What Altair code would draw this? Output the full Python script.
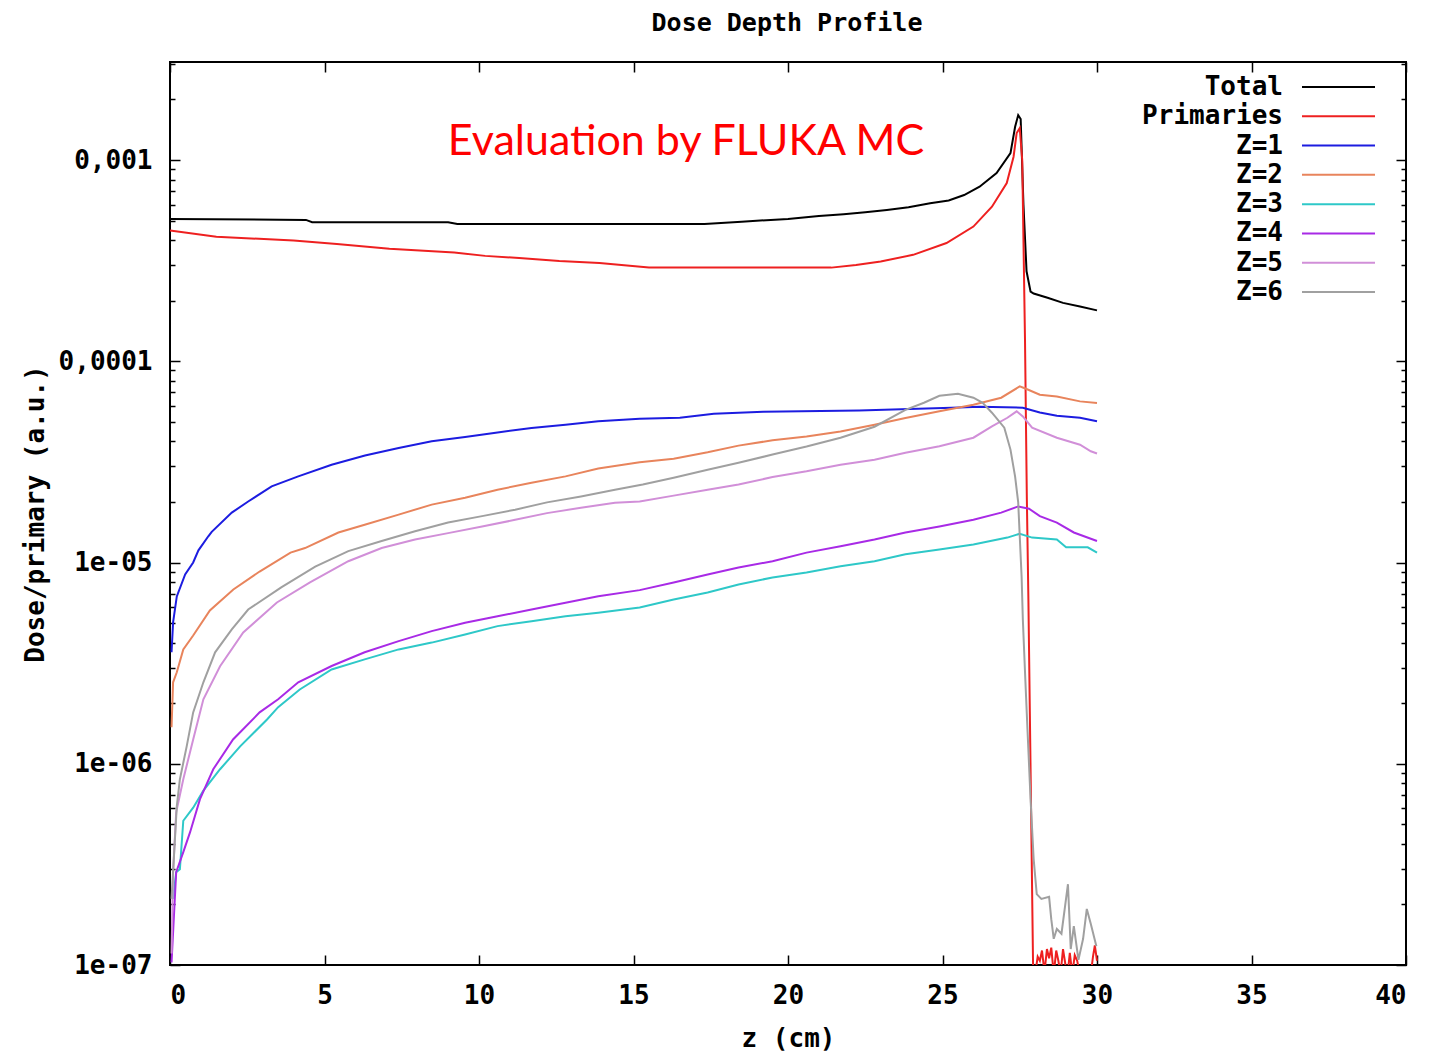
import altair as alt
import pandas as pd

# ---------------- data ----------------
series_names = ["Total", "Primaries", "Z=1", "Z=2", "Z=3", "Z=4", "Z=5", "Z=6"]
series_colors = ["#000000", "#ee2020", "#1c1ce0", "#e8845c", "#2ec8c8",
                 "#a82ae6", "#d18fd8", "#a0a0a0"]

tot_z = [0, 4.4, 4.6, 9.0, 9.3, 17.3, 18.5, 20.0, 21.0, 21.8, 22.5, 23.2, 23.9, 24.6, 25.2,
         25.7, 26.2, 26.75, 27.2, 27.35, 27.45, 27.53, 27.62, 27.72, 27.85, 27.95, 28.4, 28.9,
         29.45, 30.0]
tot_d = [5.10e-4, 5.04e-4, 4.91e-4, 4.91e-4, 4.81e-4, 4.81e-4, 4.94e-4, 5.10e-4, 5.27e-4,
         5.38e-4, 5.50e-4, 5.65e-4, 5.82e-4, 6.10e-4, 6.30e-4, 6.70e-4, 7.37e-4, 8.62e-4,
         1.083e-3, 1.463e-3, 1.672e-3, 1.60e-3, 6.0e-4, 2.8e-4, 2.22e-4, 2.17e-4, 2.07e-4,
         1.95e-4, 1.87e-4, 1.79e-4]

pri_z = [0, 1.5, 4.0, 5.4, 7.1, 9.2, 10.2, 11.3, 12.6, 13.9, 15.5, 21.4, 22.2, 23.0, 24.05,
         25.13, 26.0, 26.6, 27.08, 27.3, 27.4, 27.5, 27.58, 27.67, 27.73, 27.78, 27.93, 27.98,
         28.0, 28.08, 28.15, 28.22, 28.3, 28.38, 28.45, 28.52, 28.6, 28.68, 28.75, 28.82, 28.9,
         28.98, 29.05, 29.12, 29.2, 29.28, 29.36, 29.44, 29.8, 29.87, 29.93, 30.0]
pri_d = [4.46e-4, 4.16e-4, 3.98e-4, 3.83e-4, 3.62e-4, 3.47e-4, 3.34e-4, 3.26e-4, 3.15e-4,
         3.08e-4, 2.92e-4, 2.92e-4, 3.01e-4, 3.13e-4, 3.38e-4, 3.87e-4, 4.67e-4, 5.86e-4,
         7.69e-4, 1.039e-3, 1.361e-3, 1.441e-3, 1.0e-3, 1.28e-4, 2.06e-5, 6.55e-6, 1.03e-7,
         5e-8, 9e-8, 1.1e-7, 1.05e-7, 1.18e-7, 9.2e-8, 1.2e-7, 1.08e-7, 1.22e-7, 9e-8,
         1.18e-7, 1.05e-7, 9e-8, 1.2e-7, 1.0e-7, 9e-8, 1.15e-7, 9e-8, 1.12e-7, 1.05e-7, 9e-8,
         9e-8, 1.1e-7, 1.25e-7, 1.05e-7]

z1_z = [0.05, 0.1, 0.22, 0.49, 0.75, 0.92, 1.24, 1.35, 2.0, 2.53, 3.29, 4.15, 5.23, 6.31,
        7.4, 8.47, 9.55, 10.6, 11.7, 12.8, 13.86, 15.2, 16.5, 17.6, 19.2, 22.3, 25.3, 26.2,
        27.6, 28.15, 28.7, 29.45, 30.0]
z1_d = [3.58e-6, 5.04e-6, 6.78e-6, 8.72e-6, 1.0e-5, 1.15e-5, 1.35e-5, 1.42e-5, 1.77e-5,
        2.01e-5, 2.39e-5, 2.68e-5, 3.06e-5, 3.40e-5, 3.71e-5, 4.00e-5, 4.20e-5, 4.43e-5,
        4.66e-5, 4.84e-5, 5.03e-5, 5.18e-5, 5.24e-5, 5.49e-5, 5.62e-5, 5.70e-5, 5.88e-5,
        5.95e-5, 5.88e-5, 5.57e-5, 5.36e-5, 5.24e-5, 5.03e-5]

z2_z = [0.05, 0.1, 0.22, 0.43, 0.75, 1.29, 2.05, 2.9, 3.9, 4.37, 5.45, 6.3, 7.4, 8.47, 9.55,
        10.6, 11.7, 12.8, 13.86, 15.2, 16.3, 17.4, 18.4, 19.5, 20.6, 21.7, 22.8, 23.8, 24.9,
        26.0, 26.9, 27.5, 27.7, 28.15, 28.7, 29.45, 30.0]
z2_d = [1.52e-6, 2.54e-6, 2.85e-6, 3.70e-6, 4.34e-6, 5.78e-6, 7.35e-6, 9.02e-6, 1.12e-5,
        1.18e-5, 1.41e-5, 1.54e-5, 1.73e-5, 1.94e-5, 2.10e-5, 2.30e-5, 2.49e-5, 2.68e-5,
        2.93e-5, 3.15e-5, 3.28e-5, 3.53e-5, 3.81e-5, 4.05e-5, 4.23e-5, 4.48e-5, 4.84e-5,
        5.23e-5, 5.64e-5, 6.08e-5, 6.59e-5, 7.50e-5, 7.30e-5, 6.82e-5, 6.69e-5, 6.32e-5,
        6.20e-5]

z3_z = [0.1, 0.2, 0.32, 0.43, 0.75, 1.08, 1.62, 2.27, 3.14, 3.5, 4.2, 5.23, 6.3, 7.4, 8.47,
        9.55, 10.6, 11.7, 12.8, 13.86, 15.2, 16.3, 17.4, 18.4, 19.5, 20.6, 21.7, 22.8, 23.8,
        24.9, 26.0, 27.1, 27.5, 27.9, 28.7, 29.0, 29.7, 30.0]
z3_d = [2.13e-7, 2.89e-7, 2.99e-7, 5.21e-7, 6.05e-7, 7.35e-7, 9.39e-7, 1.22e-6, 1.66e-6,
        1.91e-6, 2.34e-6, 2.94e-6, 3.30e-6, 3.70e-6, 4.00e-6, 4.39e-6, 4.83e-6, 5.11e-6,
        5.41e-6, 5.63e-6, 5.98e-6, 6.55e-6, 7.10e-6, 7.78e-6, 8.43e-6, 8.92e-6, 9.59e-6,
        1.015e-5, 1.10e-5, 1.16e-5, 1.23e-5, 1.33e-5, 1.39e-5, 1.33e-5, 1.30e-5, 1.19e-5,
        1.19e-5, 1.12e-5]

z4_z = [0.05, 0.2, 0.43, 0.65, 0.97, 1.4, 2.04, 2.9, 3.5, 4.15, 5.23, 6.3, 7.4, 8.47, 9.55,
        10.6, 11.7, 12.8, 13.86, 15.2, 16.3, 17.4, 18.4, 19.5, 20.6, 21.7, 22.8, 23.8, 24.9,
        26.0, 26.9, 27.45, 27.8, 28.15, 28.7, 29.25, 30.0]
z4_d = [1.03e-7, 2.89e-7, 3.64e-7, 4.57e-7, 6.67e-7, 9.39e-7, 1.32e-6, 1.80e-6, 2.09e-6,
        2.54e-6, 3.06e-6, 3.58e-6, 4.07e-6, 4.56e-6, 5.02e-6, 5.41e-6, 5.84e-6, 6.31e-6,
        6.80e-6, 7.29e-6, 7.96e-6, 8.72e-6, 9.45e-6, 1.015e-5, 1.12e-5, 1.205e-5, 1.30e-5,
        1.41e-5, 1.51e-5, 1.63e-5, 1.77e-5, 1.90e-5, 1.85e-5, 1.70e-5, 1.58e-5, 1.41e-5,
        1.28e-5]

z5_z = [0.05, 0.1, 0.2, 0.43, 0.75, 1.08, 1.62, 2.37, 3.46, 4.53, 5.77, 6.85, 7.93, 9.0,
        10.1, 11.17, 12.2, 13.3, 14.4, 15.2, 16.3, 17.4, 18.4, 19.5, 20.6, 21.7, 22.8, 23.8,
        24.9, 26.0, 26.6, 27.1, 27.4, 27.6, 27.9, 28.7, 29.45, 29.8, 30.0]
z5_d = [1.14e-7, 2.89e-7, 5.74e-7, 8.38e-7, 1.32e-6, 2.09e-6, 3.05e-6, 4.49e-6, 6.33e-6,
        7.96e-6, 1.015e-5, 1.18e-5, 1.30e-5, 1.40e-5, 1.51e-5, 1.63e-5, 1.76e-5, 1.87e-5,
        1.98e-5, 2.01e-5, 2.15e-5, 2.30e-5, 2.44e-5, 2.66e-5, 2.84e-5, 3.06e-5, 3.24e-5,
        3.51e-5, 3.78e-5, 4.17e-5, 4.75e-5, 5.24e-5, 5.64e-5, 5.32e-5, 4.68e-5, 4.17e-5,
        3.85e-5, 3.57e-5, 3.48e-5]

z6_z = [0.05, 0.22, 0.32, 0.54, 0.75, 1.08, 1.46, 2.0, 2.53, 3.6, 4.7, 5.77, 6.85, 7.93, 9.0,
        10.1, 11.17, 12.2, 13.3, 14.4, 15.3, 16.3, 17.4, 18.4, 19.5, 20.6, 21.7, 22.8, 23.8,
        24.4, 24.9, 25.5, 26.0, 26.3, 26.6, 27.0, 27.2, 27.35, 27.45, 27.5, 27.56, 27.6,
        27.68, 27.75, 27.85, 27.95, 28.05, 28.2, 28.45, 28.52, 28.6, 28.7, 28.85, 29.06,
        29.15, 29.25, 29.4, 29.55, 29.67, 29.8, 29.98]
z6_d = [2.13e-7, 6.15e-7, 8.38e-7, 1.22e-6, 1.80e-6, 2.54e-6, 3.58e-6, 4.65e-6, 5.84e-6,
        7.52e-6, 9.55e-6, 1.14e-5, 1.28e-5, 1.43e-5, 1.58e-5, 1.70e-5, 1.83e-5, 1.99e-5,
        2.13e-5, 2.30e-5, 2.44e-5, 2.64e-5, 2.89e-5, 3.13e-5, 3.44e-5, 3.77e-5, 4.17e-5,
        4.73e-5, 5.74e-5, 6.22e-5, 6.74e-5, 6.90e-5, 6.59e-5, 6.22e-5, 5.55e-5, 4.68e-5,
        3.64e-5, 2.67e-5, 1.99e-5, 1.35e-5, 8.52e-6, 5.21e-6, 2.63e-6, 1.48e-6, 6.67e-7,
        3.36e-7, 2.25e-7, 2.13e-7, 2.18e-7, 1.69e-7, 1.35e-7, 1.51e-7, 1.43e-7, 2.52e-7,
        1.20e-7, 1.56e-7, 1.06e-7, 1.35e-7, 1.90e-7, 1.60e-7, 1.24e-7]

x_ticks = [0, 5, 10, 15, 20, 25, 30, 35, 40]
y_major = [1e-7, 1e-6, 1e-5, 1e-4, 1e-3]
y_labels = ["1e-07", "1e-06", "1e-05", "0,0001", "0,001"]
y_minor = [m * 10.0 ** e for e in range(-7, -3 + 1) for m in range(2, 10)]
y_minor = [v for v in y_minor if v < 3.07e-3]

title_text = ["Dose Depth Profile"]
note_text = ["Evaluation by FLUKA MC"]
note_z = [16.7]
note_d = [1.06e-3]

# ---------------- build tables ----------------
all_z = [tot_z, pri_z, z1_z, z2_z, z3_z, z4_z, z5_z, z6_z]
all_d = [tot_d, pri_d, z1_d, z2_d, z3_d, z4_d, z5_d, z6_d]
rows = []
for k, (name, zs, ds) in enumerate(zip(series_names, all_z, all_d)):
    for i, (z, d) in enumerate(zip(zs, ds)):
        rows.append({"series": name, "z": z, "dose": d, "order": i, "k": k})
df = pd.DataFrame(rows)
legend_df = pd.DataFrame({"series": series_names})
note_df = pd.DataFrame({"z": note_z, "dose": note_d, "text": note_text})
title_df = pd.DataFrame({"text": title_text})

W, H = 1236, 903
FONT = "DejaVu Sans Mono"
FS = 26

x_scale = alt.Scale(domain=[0, 40], nice=False, zero=False)
y_scale = alt.Scale(type="log", domain=[1e-7, 3.07e-3], nice=False)
color_scale = alt.Scale(domain=series_names, range=series_colors)

label_expr = "[" + ",".join("'%s'" % s for s in y_labels) + "][round(log(datum.value)/LN10)+7]"
major_test = "abs(log(datum.value)/LN10 - round(log(datum.value)/LN10)) < 0.01"
y_tick_size = {"condition": {"test": major_test, "value": 10}, "value": 5}
y_all = y_major + y_minor

tick_common = dict(labels=False, domain=False, grid=False, title=None,
                   tickColor="black", tickWidth=1.5)

base = alt.Chart(df)

lines = base.mark_line(strokeWidth=2, clip=True).encode(
    x=alt.X("z:Q", scale=x_scale,
            axis=alt.Axis(orient="bottom", values=x_ticks, ticks=False, domain=False,
                          grid=False, labelPadding=17, title="z (cm)", titlePadding=17)),
    y=alt.Y("dose:Q", scale=y_scale,
            axis=alt.Axis(orient="left", values=y_major, labelExpr=label_expr, ticks=False,
                          domain=False, grid=False, labelPadding=18,
                          title="Dose/primary (a.u.)", titlePadding=10)),
    color=alt.Color("series:N", scale=color_scale, legend=None),
    order="order:Q",
)

ticks_a = base.mark_point(opacity=0).encode(
    x=alt.X("z:Q", scale=x_scale,
            axis=alt.Axis(orient="top", offset=-H, values=x_ticks, tickSize=10, **tick_common)),
    y=alt.Y("dose:Q", scale=y_scale,
            axis=alt.Axis(orient="right", offset=-W, values=y_all, tickSize=y_tick_size,
                          **tick_common)),
)
ticks_b = base.mark_point(opacity=0).encode(
    x=alt.X("z:Q", scale=x_scale,
            axis=alt.Axis(orient="bottom", offset=-H, values=x_ticks, tickSize=10, **tick_common)),
    y=alt.Y("dose:Q", scale=y_scale,
            axis=alt.Axis(orient="left", offset=-W, values=y_all, tickSize=y_tick_size,
                          **tick_common)),
)

note = alt.Chart(note_df).mark_text(
    font="Lato", fontSize=43, color="#ff0000", align="center", baseline="alphabetic"
).encode(
    x=alt.X("z:Q", scale=x_scale, axis=None),
    y=alt.Y("dose:Q", scale=y_scale, axis=None),
    text="text:N",
)

main = alt.layer(lines, ticks_a, ticks_b, note).resolve_axis(x="independent", y="independent")

leg_y = alt.Y("series:N", scale=alt.Scale(type="point", domain=series_names, range=[25, 230],
                                          padding=0), axis=None)
leg_text = alt.Chart(legend_df).mark_text(
    align="right", baseline="middle", font=FONT, fontWeight="bold", fontSize=FS, color="black"
).encode(x=alt.value(1113), y=leg_y, text="series:N")
leg_rule = alt.Chart(legend_df).mark_rule(strokeWidth=2).encode(
    x=alt.value(1132), x2=alt.value(1205), y=leg_y,
    color=alt.Color("series:N", scale=color_scale, legend=None),
)
title_mark = alt.Chart(title_df).mark_text(
    align="center", baseline="alphabetic", font=FONT, fontWeight="bold", fontSize=25,
    color="black"
).encode(x=alt.value(W / 2 - 1), y=alt.value(-31), text="text:N")
legend = alt.layer(leg_text, leg_rule, title_mark)

chart = alt.layer(main, legend).resolve_scale(y="independent").properties(
    width=W, height=H,
    padding={"left": 162, "top": 54, "right": 20, "bottom": 86},
    autosize=alt.AutoSizeParams(type="none"),
    background="white",
).configure_view(stroke="black", strokeWidth=2).configure_axis(
    labelFont=FONT, labelFontSize=FS, labelFontWeight="bold", labelColor="black",
    titleFont=FONT, titleFontSize=FS, titleFontWeight="bold", titleColor="black",
)

chart.save("out.html", embed_options={"renderer": "svg", "actions": False})
